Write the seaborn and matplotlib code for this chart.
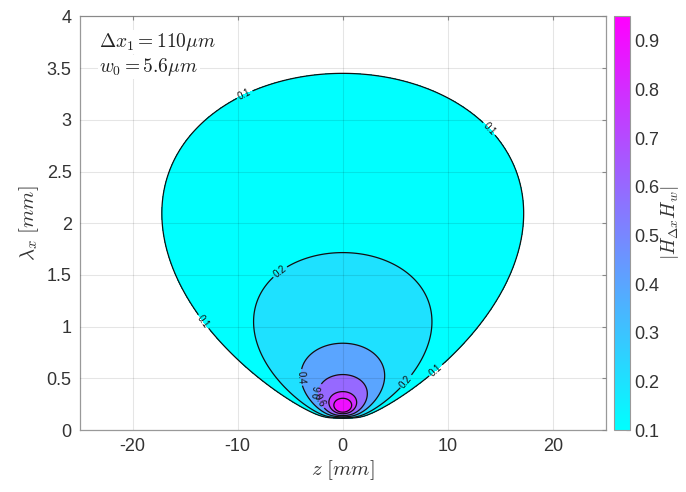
import numpy as np
import matplotlib
matplotlib.use("Agg")
import matplotlib.pyplot as plt
from matplotlib.colors import Normalize
import seaborn as sns

# parameters shown on the chart
delta_x1_um = 110.0
w0_um = 5.6
wavelength_um = 0.48   # light wavelength, picked so the 0.1 contour reaches ~ +/-17.4 mm

# contour levels and colour range
levels = [0.1, 0.2, 0.4, 0.6, 0.8, 0.9]
clim = [0.1, 0.95]
cbar_ticks = [0.1, 0.2, 0.3, 0.4, 0.5, 0.6, 0.7, 0.8, 0.9]

# axes
z_lim = [-25, 25]
lam_lim = [0, 4]
z_ticks = [-20, -10, 0, 10, 20]
lam_ticks = [0, 0.5, 1, 1.5, 2, 2.5, 3, 3.5, 4]
lam_ticklabels = ["0", "0.5", "1", "1.5", "2", "2.5", "3", "3.5", "4"]

# where the inline contour labels sit (z, lambda_x)
label_spots = [(-9.3, 3.24), (14.0, 2.92), (-13.5, 1.03), (9.0, 0.56),
               (-5.9, 1.52), (5.9, 0.48), (-3.8, 0.51), (-2.4, 0.37), (-2.0, 0.29)]

# field |H_dx * H_w| over (z, lambda_x), lengths in mm
dx = delta_x1_um * 1e-3
w0 = w0_um * 1e-3
z_r = np.pi * w0 ** 2 / (wavelength_um * 1e-3)
z = np.linspace(z_lim[0], z_lim[1], 1001)
lam = np.linspace(dx, lam_lim[1], 1201)
Z, L = np.meshgrid(z, lam)
w_z = w0 * np.sqrt(1 + (Z / z_r) ** 2)
H_dx = np.abs(np.sin(np.pi * dx / L))
H_w = np.exp(-(np.pi * w_z / L) ** 2)
H = H_dx * H_w

sns.set_style("white")
plt.rcParams["font.family"] = ["Liberation Sans", "DejaVu Sans"]
plt.rcParams["mathtext.fontset"] = "cm"
plt.rcParams["axes.unicode_minus"] = False

fig = plt.figure(figsize=(6.86, 4.92), dpi=100)
ax = fig.add_axes([0.1166, 0.126, 0.7661, 0.8405])
cax = fig.add_axes([0.895, 0.126, 0.0233, 0.8405])

cmap = plt.get_cmap("cool")
norm = Normalize(vmin=clim[0], vmax=clim[1])
# MATLAB style: each band gets the colour of its lower level
fill_colors = [cmap(norm(v)) for v in levels]
ax.contourf(Z, L, H, levels=levels + [1.01], colors=fill_colors)
cs = ax.contour(Z, L, H, levels=levels, colors="#111111", linewidths=0.9)
ax.clabel(cs, fmt="%.1f", fontsize=7, inline=True, inline_spacing=2, manual=label_spots)

ax.set_xlim(z_lim)
ax.set_ylim(lam_lim)
ax.set_xticks(z_ticks)
ax.set_yticks(lam_ticks)
ax.set_yticklabels(lam_ticklabels)
ax.set_axisbelow(False)
ax.grid(True, color="k", alpha=0.1, linewidth=0.8)
ax.tick_params(direction="in", length=3, width=0.8, color="#888888", labelsize=13,
               labelcolor="#333333", top=True, right=True, pad=6)
for s in ax.spines.values():
    s.set_color("#999999")
    s.set_linewidth(0.9)

ax.set_xlabel(r"$z\ [mm]$", fontsize=15, color="#333333", labelpad=2)
ax.set_ylabel(r"$\lambda_x\ [mm]$", fontsize=15, color="#333333", labelpad=4)

ax.text(0.037, 0.938, r"$\Delta x_1 = 110\mu m$", transform=ax.transAxes, fontsize=14,
        va="center", ha="left", color="#222222",
        bbox=dict(facecolor="white", edgecolor="none", pad=1))
ax.text(0.037, 0.878, r"$w_0 = 5.6\mu m$", transform=ax.transAxes, fontsize=14,
        va="center", ha="left", color="#222222",
        bbox=dict(facecolor="white", edgecolor="none", pad=1))

sm = plt.cm.ScalarMappable(norm=norm, cmap=cmap)
cb = fig.colorbar(sm, cax=cax, ticks=cbar_ticks)
cb.outline.set_edgecolor("#999999")
cb.ax.tick_params(direction="in", length=3, color="#555555", labelsize=13,
                  labelcolor="#333333", pad=3)
cb.set_label(r"$|H_{\Delta x}H_w|$", fontsize=14, color="#333333", labelpad=0)

fig.savefig("out.png", dpi=100)
